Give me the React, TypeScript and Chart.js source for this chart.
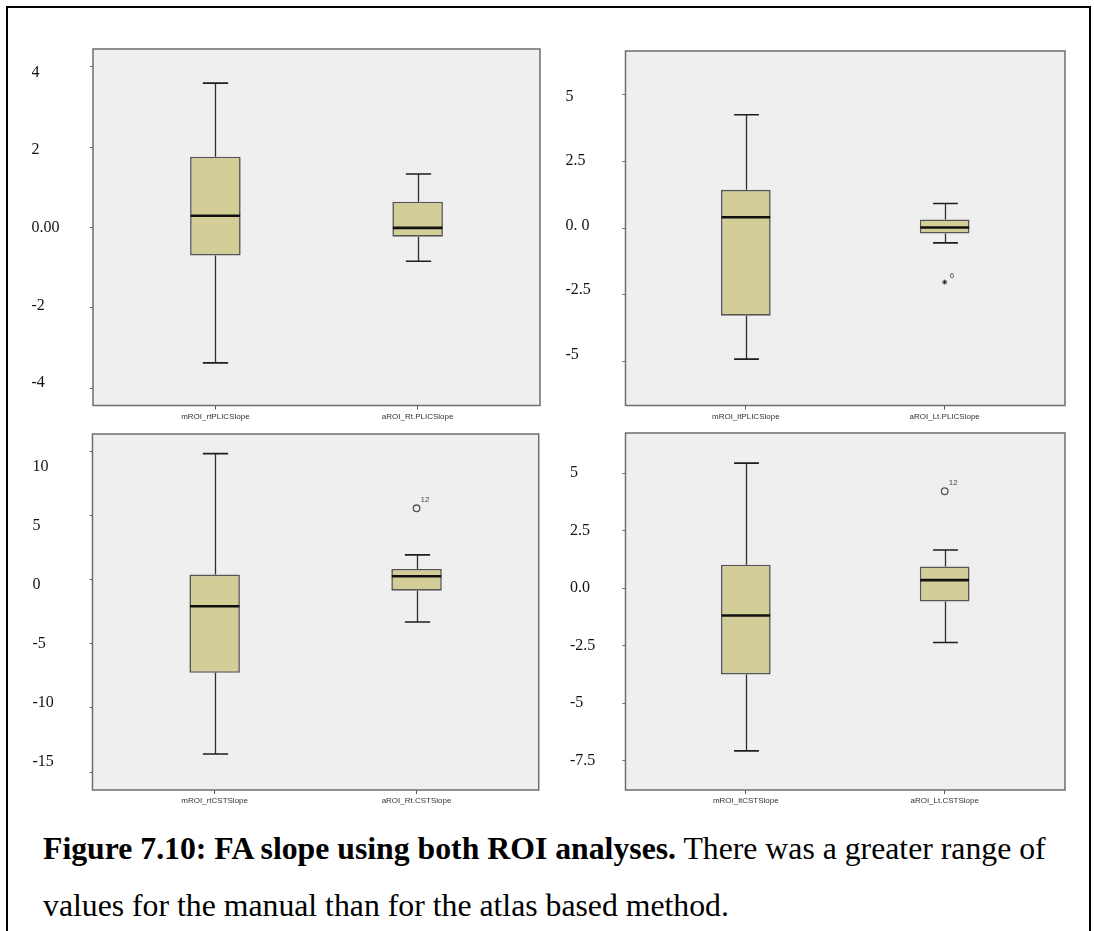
import React, { useEffect, useRef } from 'react';
import { Chart, registerables } from 'chart.js';

Chart.register(...registerables);

// ---------- data: right PLIC ----------
const PLIC_RT_GROUPS = ['mROI_rtPLICSlope', 'aROI_Rt.PLICSlope'];
const PLIC_RT_MIN = [-3.37, -0.84];
const PLIC_RT_Q1 = [-0.7, -0.23];
const PLIC_RT_MEDIAN = [0.29, -0.01];
const PLIC_RT_Q3 = [1.76, 0.64];
const PLIC_RT_MAX = [3.59, 1.33];
const PLIC_RT_OUTLIER_GROUP: number[] = [];
const PLIC_RT_OUTLIER_VALUE: number[] = [];
const PLIC_RT_OUTLIER_ID: string[] = [];
const PLIC_RT_TICKS = [-4, -2, 0, 2, 4];
const PLIC_RT_TICK_LABELS = ['-4', '-2', '0.00', '2', '4'];

// ---------- data: left PLIC ----------
const PLIC_LT_GROUPS = ['mROI_ltPLICSlope', 'aROI_Lt.PLICSlope'];
const PLIC_LT_MIN = [-4.91, -0.55];
const PLIC_LT_Q1 = [-3.28, -0.2];
const PLIC_LT_MEDIAN = [0.41, 0.03];
const PLIC_LT_Q3 = [1.44, 0.33];
const PLIC_LT_MAX = [4.26, 0.93];
const PLIC_LT_OUTLIER_GROUP = [2];
const PLIC_LT_OUTLIER_VALUE = [-2.02];
const PLIC_LT_OUTLIER_ID = ['6'];
const PLIC_LT_TICKS = [-5, -2.5, 0, 2.5, 5];
const PLIC_LT_TICK_LABELS = ['-5', '-2.5', '0. 0', '2.5', '5'];

// ---------- data: right CST ----------
const CST_RT_GROUPS = ['mROI_rtCSTSlope', 'aROI_Rt.CSTSlope'];
const CST_RT_MIN = [-13.59, -3.3];
const CST_RT_Q1 = [-7.27, -0.86];
const CST_RT_MEDIAN = [-2.08, 0.26];
const CST_RT_Q3 = [0.39, 0.83];
const CST_RT_MAX = [9.82, 1.93];
const CST_RT_OUTLIER_GROUP = [2];
const CST_RT_OUTLIER_VALUE = [5.56];
const CST_RT_OUTLIER_ID = ['12'];
const CST_RT_TICKS = [-15, -10, -5, 0, 5, 10];
const CST_RT_TICK_LABELS = ['-15', '-10', '-5', '0', '5', '10'];

// ---------- data: left CST ----------
const CST_LT_GROUPS = ['mROI_ltCSTSlope', 'aROI_Lt.CSTSlope'];
const CST_LT_MIN = [-7.07, -2.36];
const CST_LT_Q1 = [-3.75, -0.58];
const CST_LT_MEDIAN = [-1.19, 0.35];
const CST_LT_Q3 = [1.02, 0.94];
const CST_LT_MAX = [5.43, 1.66];
const CST_LT_OUTLIER_GROUP = [2];
const CST_LT_OUTLIER_VALUE = [4.21];
const CST_LT_OUTLIER_ID = ['12'];
const CST_LT_TICKS = [-7.5, -5, -2.5, 0, 2.5, 5];
const CST_LT_TICK_LABELS = ['-7.5', '-5', '-2.5', '0.0', '2.5', '5'];

// ---------- styling ----------
const PLOT_BG = '#efefef';
const PLOT_EDGE = '#6e6e6e';
const BOX_FILL = '#d3ce98';
const BOX_EDGE = '#555555';
const WHISKER = '#2e2e2e';
const MEDIAN = '#111111';
const X_MIN = 0.395;
const X_MAX = 2.605;
const SERIF = '"Liberation Serif", "Times New Roman", serif';
const SANS = '"Liberation Sans", Arial, sans-serif';
const TICK_MARK = 3;

type Marker = 'circle' | 'star';

interface PanelSpec {
  groups: string[];
  min: number[];
  q1: number[];
  median: number[];
  q3: number[];
  max: number[];
  outlierGroup: number[];
  outlierValue: number[];
  outlierId: string[];
  marker: Marker;
  yMin: number;
  yMax: number;
  ticks: number[];
  tickLabels: string[];
  // range of the (slightly differently spaced) label column
  labelMin: number;
  labelMax: number;
  frame: { left: number; top: number; width: number; height: number };
  labelX: number;
  plot: { l: number; t: number; r: number; b: number };
  xLabelPad: number;
}

const PANELS: PanelSpec[] = [
  {
    groups: PLIC_RT_GROUPS, min: PLIC_RT_MIN, q1: PLIC_RT_Q1, median: PLIC_RT_MEDIAN,
    q3: PLIC_RT_Q3, max: PLIC_RT_MAX, outlierGroup: PLIC_RT_OUTLIER_GROUP,
    outlierValue: PLIC_RT_OUTLIER_VALUE, outlierId: PLIC_RT_OUTLIER_ID, marker: 'circle',
    yMin: -4.43, yMax: 4.44, ticks: PLIC_RT_TICKS, tickLabels: PLIC_RT_TICK_LABELS,
    labelMin: -4.58, labelMax: 4.61,
    frame: { left: 8, top: 9, width: 536, height: 412 },
    labelX: 31.5, plot: { l: 93, t: 49, r: 540, b: 405.5 }, xLabelPad: 2.5,
  },
  {
    groups: PLIC_LT_GROUPS, min: PLIC_LT_MIN, q1: PLIC_LT_Q1, median: PLIC_LT_MEDIAN,
    q3: PLIC_LT_Q3, max: PLIC_LT_MAX, outlierGroup: PLIC_LT_OUTLIER_GROUP,
    outlierValue: PLIC_LT_OUTLIER_VALUE, outlierId: PLIC_LT_OUTLIER_ID, marker: 'star',
    yMin: -6.65, yMax: 6.65, ticks: PLIC_LT_TICKS, tickLabels: PLIC_LT_TICK_LABELS,
    labelMin: -6.98, labelMax: 6.78,
    frame: { left: 546, top: 9, width: 544, height: 412 },
    labelX: 565.5, plot: { l: 625.5, t: 51, r: 1065, b: 405.5 }, xLabelPad: 2.5,
  },
  {
    groups: CST_RT_GROUPS, min: CST_RT_MIN, q1: CST_RT_Q1, median: CST_RT_MEDIAN,
    q3: CST_RT_Q3, max: CST_RT_MAX, outlierGroup: CST_RT_OUTLIER_GROUP,
    outlierValue: CST_RT_OUTLIER_VALUE, outlierId: CST_RT_OUTLIER_ID, marker: 'circle',
    yMin: -16.4, yMax: 11.35, ticks: CST_RT_TICKS, tickLabels: CST_RT_TICK_LABELS,
    labelMin: -17.4, labelMax: 12.77,
    frame: { left: 8, top: 422, width: 536, height: 400 },
    labelX: 32.5, plot: { l: 92.5, t: 434, r: 540, b: 790 }, xLabelPad: 2,
  },
  {
    groups: CST_LT_GROUPS, min: CST_LT_MIN, q1: CST_LT_Q1, median: CST_LT_MEDIAN,
    q3: CST_LT_Q3, max: CST_LT_MAX, outlierGroup: CST_LT_OUTLIER_GROUP,
    outlierValue: CST_LT_OUTLIER_VALUE, outlierId: CST_LT_OUTLIER_ID, marker: 'circle',
    yMin: -8.77, yMax: 6.74, ticks: CST_LT_TICKS, tickLabels: CST_LT_TICK_LABELS,
    labelMin: -8.77, labelMax: 6.74,
    frame: { left: 546, top: 422, width: 544, height: 400 },
    labelX: 570, plot: { l: 625.5, t: 433, r: 1065, b: 790 }, xLabelPad: 2,
  },
];

// Whiskers, caps, medians, outlier case numbers and the plot frame.
function boxDecor(spec: PanelSpec) {
  return {
    id: 'boxDecor',
    beforeDraw(chart: Chart) {
      const { ctx, chartArea: a } = chart;
      ctx.save();
      ctx.fillStyle = PLOT_BG;
      ctx.fillRect(a.left, a.top, a.right - a.left, a.bottom - a.top);
      ctx.restore();
    },
    afterDatasetsDraw(chart: Chart) {
      const { ctx } = chart;
      const ys = chart.scales.y;
      const bars = chart.getDatasetMeta(0).data as any[];
      ctx.save();
      ctx.lineCap = 'butt';
      spec.groups.forEach((_, i) => {
        const bar = bars[i];
        if (!bar) return;
        const cx = Math.round(bar.x) + 0.5;
        const half = bar.width / 2;
        const capHalf = half * 0.5;
        const yMax = ys.getPixelForValue(spec.max[i]);
        const yQ3 = ys.getPixelForValue(spec.q3[i]);
        const yQ1 = ys.getPixelForValue(spec.q1[i]);
        const yMin = ys.getPixelForValue(spec.min[i]);
        const yMed = ys.getPixelForValue(spec.median[i]);

        ctx.strokeStyle = WHISKER;
        ctx.lineWidth = 1.3;
        ctx.beginPath();
        ctx.moveTo(cx, yQ3);
        ctx.lineTo(cx, yMax);
        ctx.moveTo(cx, yQ1);
        ctx.lineTo(cx, yMin);
        ctx.stroke();

        ctx.lineWidth = 1.6;
        ctx.strokeStyle = '#1e1e1e';
        ctx.beginPath();
        ctx.moveTo(cx - capHalf, yMax);
        ctx.lineTo(cx + capHalf, yMax);
        ctx.moveTo(cx - capHalf, yMin);
        ctx.lineTo(cx + capHalf, yMin);
        ctx.stroke();

        ctx.strokeStyle = MEDIAN;
        ctx.lineWidth = 2.6;
        ctx.beginPath();
        ctx.moveTo(bar.x - half + 0.5, yMed);
        ctx.lineTo(bar.x + half - 0.5, yMed);
        ctx.stroke();
      });

      const pts = chart.getDatasetMeta(1).data as any[];
      ctx.fillStyle = '#4a4a4a';
      ctx.font = `8px ${SANS}`;
      ctx.textAlign = 'left';
      ctx.textBaseline = 'middle';
      spec.outlierId.forEach((id, i) => {
        const p = pts[i];
        if (!p) return;
        const dx = spec.marker === 'star' ? 5 : 4;
        const dy = spec.marker === 'star' ? -6 : -8.5;
        ctx.fillText(id, p.x + dx, p.y + dy);
      });
      ctx.restore();
    },
    afterDraw(chart: Chart) {
      const { ctx, chartArea: a } = chart;
      ctx.save();
      ctx.strokeStyle = PLOT_EDGE;
      ctx.lineWidth = 1.5;
      ctx.strokeRect(a.left, a.top, a.right - a.left, a.bottom - a.top);
      ctx.restore();
    },
  };
}

function BoxPanel({ spec }: { spec: PanelSpec }) {
  const ref = useRef<HTMLCanvasElement>(null);

  useEffect(() => {
    if (!ref.current) return;
    const { frame, plot } = spec;
    const padLeft = spec.labelX - frame.left;
    const labelAxisWidth = plot.l - spec.labelX - TICK_MARK;
    const padTop = plot.t - frame.top;
    const padRight = frame.left + frame.width - plot.r;
    const xAxisHeight = frame.top + frame.height - plot.b;
    const tickText = (v: any) => {
      const k = spec.ticks.indexOf(Number(v));
      return k >= 0 ? spec.tickLabels[k] : '';
    };
    const fixedTicks = (axis: any) => {
      axis.ticks = spec.ticks.map((v) => ({ value: v }));
    };

    const chart = new Chart(ref.current, {
      type: 'bar',
      data: {
        datasets: [
          {
            type: 'bar',
            data: spec.groups.map((_, i) => ({ x: i + 1, y: [spec.q1[i], spec.q3[i]] })) as any,
            backgroundColor: BOX_FILL,
            borderColor: BOX_EDGE,
            borderWidth: 1.6,
            borderSkipped: false,
            barPercentage: 0.25,
            categoryPercentage: 1,
          },
          {
            type: 'scatter',
            data: spec.outlierValue.map((v, i) => ({ x: spec.outlierGroup[i], y: v })),
            pointStyle: spec.marker === 'star' ? 'star' : 'circle',
            pointRadius: spec.marker === 'star' ? 2.4 : 3.3,
            pointBorderWidth: spec.marker === 'star' ? 1 : 1.3,
            pointBorderColor: spec.marker === 'star' ? '#222' : '#555',
            pointBackgroundColor: 'rgba(0,0,0,0)',
          } as any,
        ],
      },
      options: {
        animation: false,
        responsive: false,
        maintainAspectRatio: false,
        layout: { padding: { left: padLeft, top: padTop, right: padRight, bottom: 0 } },
        plugins: {
          legend: { display: false },
          tooltip: { enabled: false },
        },
        scales: {
          x: {
            type: 'linear',
            min: X_MIN,
            max: X_MAX,
            offset: false,
            afterBuildTicks: (axis: any) => {
              axis.ticks = spec.groups.map((_, i) => ({ value: i + 1 }));
            },
            afterFit: (axis: any) => {
              axis.height = xAxisHeight;
            },
            ticks: {
              autoSkip: false,
              maxRotation: 0,
              padding: spec.xLabelPad,
              color: '#333',
              font: { family: SANS, size: 8 },
              callback: (v: any) => spec.groups[Number(v) - 1] ?? '',
            },
            grid: {
              offset: false,
              drawOnChartArea: false,
              drawTicks: true,
              tickLength: 4,
              color: '#555',
              lineWidth: 1,
            },
            border: { display: false },
          },
          // value axis: carries the data and the small tick marks
          y: {
            type: 'linear',
            position: 'left',
            weight: 0,
            min: spec.yMin,
            max: spec.yMax,
            afterBuildTicks: fixedTicks,
            afterFit: (axis: any) => {
              axis.width = TICK_MARK;
            },
            ticks: { display: false, autoSkip: false },
            grid: {
              drawOnChartArea: false,
              drawTicks: true,
              tickLength: TICK_MARK,
              color: '#666',
              lineWidth: 1,
            },
            border: { display: false },
          },
          // label column on the outer left
          yLabels: {
            type: 'linear',
            position: 'left',
            weight: 1,
            min: spec.labelMin,
            max: spec.labelMax,
            afterBuildTicks: fixedTicks,
            afterFit: (axis: any) => {
              axis.width = labelAxisWidth;
            },
            ticks: {
              autoSkip: false,
              crossAlign: 'far',
              padding: 0,
              color: '#111',
              font: { family: SERIF, size: 16 },
              callback: tickText,
            },
            grid: { display: false, drawTicks: false },
            border: { display: false },
          },
        },
      } as any,
      plugins: [boxDecor(spec) as any],
    });

    return () => chart.destroy();
  }, [spec]);

  return (
    <canvas
      ref={ref}
      width={spec.frame.width}
      height={spec.frame.height}
      style={{
        position: 'absolute',
        left: spec.frame.left,
        top: spec.frame.top,
        width: spec.frame.width,
        height: spec.frame.height,
      }}
    />
  );
}

export default function App() {
  const captionLine: React.CSSProperties = {
    position: 'absolute',
    left: 43,
    fontFamily: SERIF,
    fontSize: 31.75,
    lineHeight: '31.75px',
    color: '#000',
    whiteSpace: 'nowrap',
  };
  return (
    <div style={{ position: 'absolute', left: 0, top: 0, width: 1094, height: 931, background: '#fff', overflow: 'hidden' }}>
      <div
        style={{
          position: 'absolute',
          left: 6,
          top: 6,
          width: 1085,
          height: 925,
          boxSizing: 'border-box',
          borderTop: '2px solid #000',
          borderLeft: '2px solid #000',
          borderRight: '2px solid #000',
        }}
      />
      {PANELS.map((p, i) => (
        <BoxPanel key={i} spec={p} />
      ))}
      <div style={{ ...captionLine, top: 833.4 }}>
        <b>Figure 7.10: FA slope using both ROI analyses.</b> There was a greater range of
      </div>
      <div style={{ ...captionLine, top: 890.1 }}>values for the manual than for the atlas based method.</div>
    </div>
  );
}
